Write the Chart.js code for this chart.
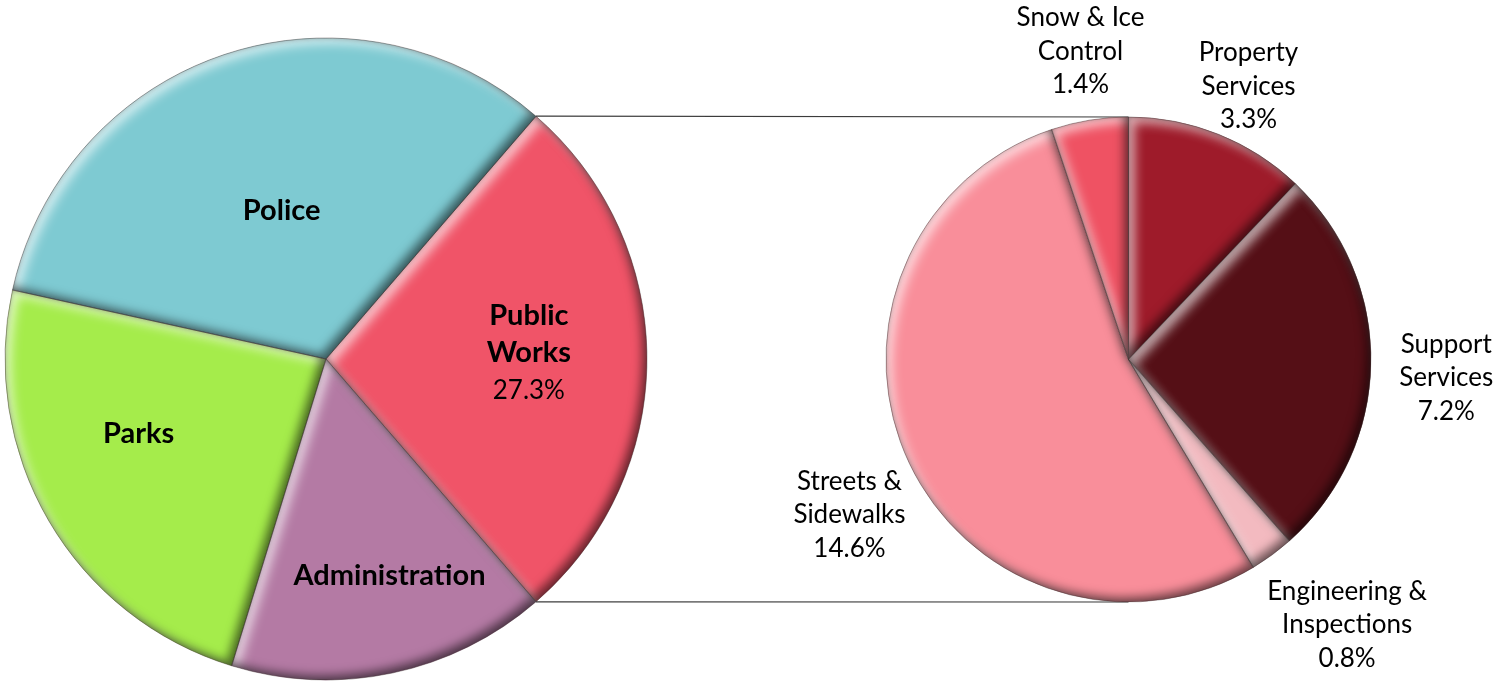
<!DOCTYPE html>
<html>
<head>
<meta charset="utf-8">
<title>Budget by Department</title>
<script src="https://cdn.jsdelivr.net/npm/chart.js@4.4.1/dist/chart.umd.min.js"></script>
<style>
  html, body { margin: 0; padding: 0; background: #ffffff; }
  #stage { position: relative; width: 1496px; height: 682px; overflow: hidden; }
  #stage canvas { position: absolute; left: 0; top: 0; }
</style>
</head>
<body>
<div id="stage">
  <canvas id="mainPie" width="1496" height="682"></canvas>
  <canvas id="detailPie" width="1496" height="682"></canvas>
</div>
<script>
// ---- Data: department shares of the total budget (%) ----
const mainCategories = ['Public Works', 'Administration', 'Parks', 'Police'];
const mainShares = [27.3, 16.1, 23.7, 32.9];

// Public Works broken down into its divisions (% of total budget)
const detailCategories = ['Property Services', 'Support Services', 'Engineering & Inspections', 'Streets & Sidewalks', 'Snow & Ice Control'];
const detailShares = [3.3, 7.2, 0.8, 14.6, 1.4];

// Label text lines
const mainLabelLines = [['Public', 'Works'], ['Administration'], ['Parks'], ['Police']];
const mainLabelPercent = [true, false, false, false];
const detailLabelLines = [['Property', 'Services'], ['Support', 'Services'], ['Engineering &', 'Inspections'], ['Streets &', 'Sidewalks'], ['Snow & Ice', 'Control']];

// ---- Styling ----
const mainColors = ['#F05468', '#B47AA4', '#A5EC4B', '#7ECAD2'];
const detailColors = ['#9E1B2A', '#550F16', '#F3BAC0', '#F98E9A', '#EF5263'];

// Label anchors: [clock angle in degrees, fraction of radius]
const mainLabelPlacement = [[90.8, 0.632], [164.3, 0.731], [245.8, 0.640], [342.3, 0.455]];
const detailLabelPlacement = [[24.4, 1.198], [94.8, 1.315], [141.4, 1.445], [239.6, 1.334], [350.9, 1.251]];

const FONT = 'Lato, "Open Sans", "DejaVu Sans", sans-serif';

// ---- Helpers ----
function slicePath(ctx, a, shiftX) {
  const x = a.x + shiftX;
  ctx.moveTo(x, a.y);
  ctx.arc(x, a.y, a.outerRadius, a.startAngle, a.endAngle);
  ctx.closePath();
}

// Inner shadow inside a slice: the surrounding region is drawn far away and
// only its shadow is brought back over the slice.
function innerShade(ctx, a, color, blur, dx, dy) {
  const far = 6000;
  ctx.save();
  ctx.beginPath();
  slicePath(ctx, a, 0);
  ctx.clip();
  ctx.beginPath();
  ctx.rect(a.x + far - 1200, a.y - 1200, 2400, 2400);
  slicePath(ctx, a, far);
  ctx.shadowColor = color;
  ctx.shadowBlur = blur;
  ctx.shadowOffsetX = dx - far;
  ctx.shadowOffsetY = dy;
  ctx.fillStyle = '#000';
  ctx.fill('evenodd');
  ctx.restore();
}

// Rounded bevel: light from the upper left, shade on the lower right
const bevelPlugin = {
  id: 'bevel',
  afterDatasetsDraw(chart) {
    const ctx = chart.ctx;
    const arcs = chart.getDatasetMeta(0).data;
    arcs.forEach(arc => {
      const a = arc.getProps(['x', 'y', 'startAngle', 'endAngle', 'outerRadius'], true);
      innerShade(ctx, a, 'rgba(255,255,255,0.65)', 11, 6, 6);
      innerShade(ctx, a, 'rgba(0,0,0,0.5)', 10, -5, -5);
      innerShade(ctx, a, 'rgba(0,0,0,0.22)', 5, 0, 0);
      ctx.save();
      ctx.beginPath();
      slicePath(ctx, a, 0);
      ctx.strokeStyle = 'rgba(55,40,40,0.5)';
      ctx.lineWidth = 0.8;
      ctx.stroke();
      ctx.restore();
    });
  }
};

function drawTextBlock(ctx, x, y, lines, lineHeight) {
  const n = lines.length;
  lines.forEach((ln, i) => {
    ctx.font = ln.font;
    ctx.fillText(ln.text, x, y + (i - (n - 1) / 2) * lineHeight);
  });
}

function labelPlugin(id, lineSets, placement, withPercent, nameFont, pctFont, lineHeight) {
  return {
    id: id,
    afterDraw(chart) {
      const ctx = chart.ctx;
      const arcs = chart.getDatasetMeta(0).data;
      const values = chart.data.datasets[0].data;
      const cx = arcs[0].x, cy = arcs[0].y, r = arcs[0].outerRadius;
      ctx.save();
      ctx.fillStyle = '#000000';
      ctx.textAlign = 'center';
      ctx.textBaseline = 'alphabetic';
      values.forEach((v, i) => {
        const [deg, f] = placement[i];
        const t = deg * Math.PI / 180;
        const x = cx + f * r * Math.sin(t);
        const y = cy - f * r * Math.cos(t);
        const lines = lineSets[i].map(s => ({ text: s, font: nameFont }));
        if (withPercent[i]) lines.push({ text: v.toFixed(1) + '%', font: pctFont });
        drawTextBlock(ctx, x, y, lines, lineHeight);
      });
      ctx.restore();
    }
  };
}

const baseOptions = {
  responsive: false,
  animation: false,
  events: [],
  plugins: { legend: { display: false }, tooltip: { enabled: false } }
};

// ---- Main pie ----
const mainTotal = mainShares.reduce((s, v) => s + v, 0);
const mainChart = new Chart(document.getElementById('mainPie'), {
  type: 'pie',
  data: {
    labels: mainCategories,
    datasets: [{
      data: mainShares,
      backgroundColor: mainColors,
      borderWidth: 0,
      hoverOffset: 0
    }]
  },
  options: Object.assign({}, baseOptions, {
    // split slice is centred on the right-hand side
    rotation: 90 - (mainShares[0] / mainTotal) * 180,
    layout: { padding: { left: 5, top: 38, right: 849, bottom: 2 } }
  }),
  plugins: [bevelPlugin,
    labelPlugin('mainLabels', mainLabelLines, mainLabelPlacement, mainLabelPercent,
      'bold 29px ' + FONT, '26px ' + FONT, 37)]
});

// Connector lines from the split slice to the detail pie
const connectorPlugin = {
  id: 'connectors',
  beforeDatasetsDraw(chart) {
    const src = mainChart.getDatasetMeta(0).data[0];
    const dst = chart.getDatasetMeta(0).data[0];
    const r1 = src.outerRadius, r2 = dst.outerRadius;
    const ctx = chart.ctx;
    ctx.save();
    ctx.strokeStyle = '#3c3c3c';
    ctx.lineWidth = 1.2;
    ctx.beginPath();
    ctx.moveTo(src.x + r1 * Math.cos(src.startAngle), src.y + r1 * Math.sin(src.startAngle));
    ctx.lineTo(dst.x, dst.y - r2);
    ctx.moveTo(src.x + r1 * Math.cos(src.endAngle), src.y + r1 * Math.sin(src.endAngle));
    ctx.lineTo(dst.x, dst.y + r2);
    ctx.stroke();
    ctx.restore();
  }
};

// ---- Detail pie ----
new Chart(document.getElementById('detailPie'), {
  type: 'pie',
  data: {
    labels: detailCategories,
    datasets: [{
      data: detailShares,
      backgroundColor: detailColors,
      borderWidth: 0,
      hoverOffset: 0
    }]
  },
  options: Object.assign({}, baseOptions, {
    rotation: 0,
    layout: { padding: { left: 886, top: 117, right: 125, bottom: 80 } }
  }),
  plugins: [connectorPlugin, bevelPlugin,
    labelPlugin('detailLabels', detailLabelLines, detailLabelPlacement, [true, true, true, true, true],
      '26px ' + FONT, '26px ' + FONT, 33.5)]
});
</script>
</body>
</html>
